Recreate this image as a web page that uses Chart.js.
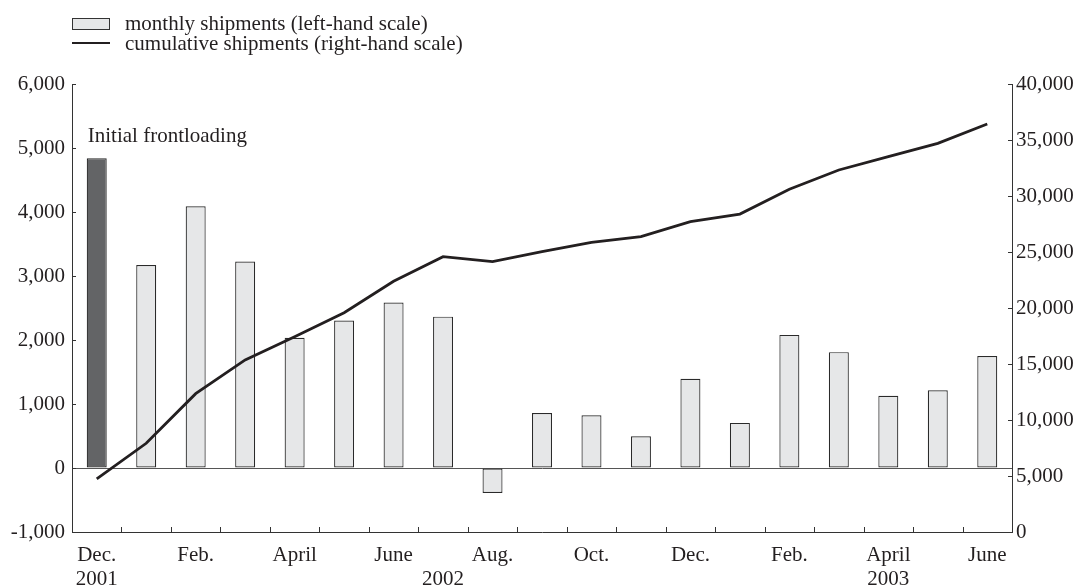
<!DOCTYPE html>
<html><head><meta charset="utf-8">
<script src="https://cdn.jsdelivr.net/npm/chart.js@4/dist/chart.umd.min.js"></script>
<style>
html,body{margin:0;padding:0;background:#fff;}
#wrap{position:relative;width:1079px;height:585px;}
canvas{position:absolute;left:0;top:0;}
.lg{position:absolute;font-family:'Liberation Serif';font-size:21px;color:#231f20;white-space:nowrap;line-height:20px;}
</style></head><body>
<div id="wrap"><canvas id="c" width="1079" height="585"></canvas>
<div class="lg" style="left:72px;top:18px;width:36px;height:10px;border:1px solid #333;background:#e6e7e8"></div>
<div class="lg" style="left:125px;top:13px">monthly shipments (left-hand scale)</div>
<div class="lg" style="left:72px;top:42px;width:38px;height:0;border-top:2.5px solid #231f20"></div>
<div class="lg" style="left:125px;top:33px">cumulative shipments (right-hand scale)</div>
</div>
<script>
const months = ["Dec. 2001","Jan. 2002","Feb. 2002","Mar. 2002","Apr. 2002","May 2002","June 2002","July 2002","Aug. 2002","Sep. 2002","Oct. 2002","Nov. 2002","Dec. 2002","Jan. 2003","Feb. 2003","Mar. 2003","Apr. 2003","May 2003","June 2003"];
const tickLabels = [["Dec.","2001"],"","Feb.","","April","","June",["","2002"],"Aug.","","Oct.","","Dec.","","Feb.","",["April","2003"],"","June"];
const monthlyShipments = [4840,3170,4090,3225,2035,2305,2585,2365,-390,860,825,495,1395,705,2080,1810,1130,1215,1750];
const cumulativeShipments = [4750,7920,12350,15360,17440,19580,22380,24580,24140,25030,25860,26370,27710,28390,30600,32320,33510,34700,36430];
const annotationText = "Initial frontloading";
const annotationValue = 5180;

const FONT = "'Liberation Serif'";
const INK = '#231f20';

const decorations = {
  id: 'decorations',
  afterDraw(chart) {
    const {ctx, chartArea: a, scales: {x, y, y1}} = chart;
    ctx.save();
    ctx.strokeStyle = '#333';
    ctx.lineWidth = 1;
    ctx.beginPath();
    for (let i = 0; i < x.ticks.length - 1; i++) {
      const px = Math.round((x.getPixelForValue(i) + x.getPixelForValue(i + 1)) / 2) + 0.5;
      ctx.moveTo(px, a.bottom); ctx.lineTo(px, a.bottom - 5);
    }
    y.ticks.forEach(t => { const py = Math.round(y.getPixelForValue(t.value)) + 0.5; ctx.moveTo(a.left, py); ctx.lineTo(a.left + 4, py); });
    y1.ticks.forEach(t => { const py = Math.round(y1.getPixelForValue(t.value)) + 0.5; ctx.moveTo(a.right, py); ctx.lineTo(a.right - 4, py); });
    ctx.stroke();
    ctx.font = "21px " + FONT;
    ctx.fillStyle = INK;
    ctx.textBaseline = 'middle';
    ctx.textAlign = 'left';
    ctx.fillText(annotationText, x.getPixelForValue(0) - 9, y.getPixelForValue(annotationValue));
    ctx.restore();
  }
};

new Chart(document.getElementById('c'), {
  type: 'bar',
  data: {
    labels: months,
    datasets: [
      {
        type: 'line',
        label: 'cumulative shipments (right-hand scale)',
        data: cumulativeShipments,
        yAxisID: 'y1',
        borderColor: INK,
        borderWidth: 2.8,
        pointRadius: 0,
        tension: 0,
        fill: false,
        order: 0
      },
      {
        type: 'bar',
        label: 'monthly shipments (left-hand scale)',
        data: monthlyShipments,
        yAxisID: 'y',
        backgroundColor: c => c.dataIndex === 0 ? '#636466' : '#e6e7e8',
        borderColor: '#2a2a2a',
        borderWidth: 1.2,
        borderSkipped: false,
        barPercentage: 0.404,
        categoryPercentage: 1,
        order: 1
      }
    ]
  },
  options: {
    responsive: false,
    devicePixelRatio: 1,
    animation: false,
    layout: { padding: { top: 84, left: 0, right: 0, bottom: 0 } },
    plugins: { legend: { display: false }, tooltip: { enabled: false } },
    scales: {
      x: {
        offset: true,
        grid: { display: false, drawTicks: false },
        border: { display: true, color: '#333', width: 1 },
        ticks: {
          autoSkip: false, maxRotation: 0, minRotation: 0, padding: 11,
          color: INK, font: { family: FONT, size: 21, lineHeight: 1.15 },
          callback: (v, i) => tickLabels[i]
        },
        afterFit: s => { s.height = 53; }
      },
      y: {
        position: 'left',
        min: -1000, max: 6000,
        grid: {
          drawTicks: false,
          color: c => (c.tick && c.tick.value === 0) ? '#555' : 'rgba(0,0,0,0)',
          lineWidth: 1
        },
        border: { display: true, color: '#333', width: 1 },
        ticks: {
          stepSize: 1000, padding: 7, color: INK,
          font: { family: FONT, size: 21 },
          callback: v => v.toLocaleString('en-US')
        },
        afterFit: s => { s.width = 72; }
      },
      y1: {
        position: 'right',
        min: 0, max: 40000,
        grid: { display: false, drawTicks: false },
        border: { display: true, color: '#333', width: 1 },
        ticks: {
          stepSize: 5000, padding: 4, color: INK,
          font: { family: FONT, size: 21 },
          callback: v => v.toLocaleString('en-US')
        },
        afterFit: s => { s.width = 67; }
      }
    }
  },
  plugins: [decorations]
});
</script>
</body></html>
